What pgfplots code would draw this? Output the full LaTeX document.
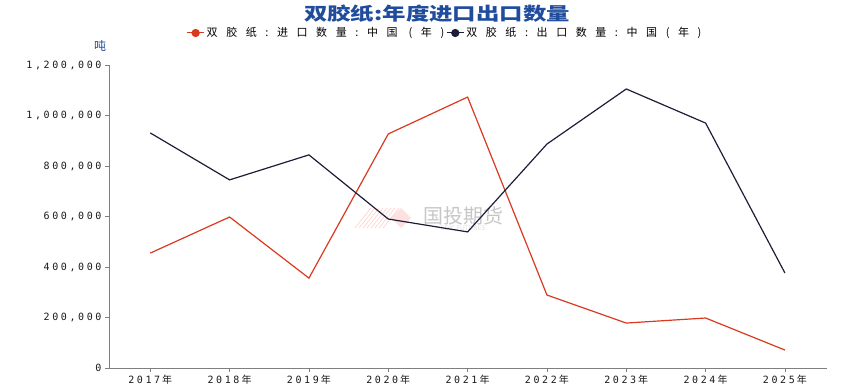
\documentclass[border=0pt]{standalone}
\usepackage{pgfplots}
\pgfplotsset{compat=1.18}
\usepackage{fontspec}
\setmainfont{Noto Sans CJK SC}
\newfontfamily\tickfont[LetterSpace=26]{DejaVu Sans Mono}
\newfontfamily\tickcjk{Noto Sans CJK SC}
\newfontfamily\legfont[LetterSpace=78]{Noto Sans CJK SC}
\definecolor{impred}{HTML}{D9391E}
\definecolor{expnavy}{HTML}{1B1E36}
\definecolor{titleblue}{HTML}{1F4C9C}
\definecolor{axgray}{HTML}{7F7F7F}
\newcommand{\yr}[1]{{\tickfont #1}\hspace{2pt}{\tickcjk 年}}
\begin{document}
\begin{tikzpicture}
\useasboundingbox (-109pt,-20pt) rectangle (733pt,368pt);
% watermark
\begin{scope}[opacity=0.35]
  \foreach \i in {0,...,7} {
    \draw[red!45, line width=0.8pt] (246pt+\i*4pt,140pt) -- (262pt+\i*4pt,160pt);
  }
  \fill[red!35] (282pt,150pt) -- (292pt,160pt) -- (302pt,150pt) -- (292pt,140pt) -- cycle;
\end{scope}
\node[font=\fontsize{20}{21}\selectfont, text=gray!45] at (354pt,152pt) {国投期货};
\node[font=\fontsize{6.5}{7}\selectfont, text=gray!25] at (354pt,140pt) {SDIC FUTURES};
\begin{axis}[
  at={(0,0)}, anchor=south west,
  scale only axis, width=718pt, height=303pt,
  xmin=2016.48, xmax=2025.53, ymin=0, ymax=1200000,
  axis x line*=bottom, axis y line*=left,
  axis line style={axgray, line width=0.8pt, -},
  xtick={2017,...,2025},
  xticklabels={\yr{2017},\yr{2018},\yr{2019},\yr{2020},\yr{2021},\yr{2022},\yr{2023},\yr{2024},\yr{2025}},
  ytick={0,200000,400000,600000,800000,1000000,1200000},
  scaled y ticks=false,
  yticklabel={\tickfont\pgfmathprintnumber[fixed,1000 sep={,},assume math mode=true]{\tick}},
  ticklabel style={font=\fontsize{10}{11}\selectfont, text=black!90},
  tick style={axgray, line width=0.6pt},
  tick align=outside, major tick length=4pt,
  xtick pos=bottom, ytick pos=left,
  legend style={at={(336pt,335pt)}, anchor=center, draw=none, fill=none,
    font=\legfont\fontsize{11}{12}\selectfont, column sep=0pt, inner sep=0pt},
  legend columns=2,
  legend image code/.code={\draw[#1, line width=1pt] (0,0)--(0.6cm,0); \fill[#1] (0.3cm,0) circle (3.5pt);},
  clip=false,
]
\addplot[impred, line width=1.2pt] coordinates {
 (2017,455000) (2018,598000) (2019,356000) (2020,927000) (2021,1073000)
 (2022,289000) (2023,178000) (2024,198000) (2025,71000)};
\addlegendentry{双胶纸:进口数量:中国 (年)}
\addplot[expnavy, line width=1.2pt] coordinates {
 (2017,931000) (2018,745000) (2019,844000) (2020,590000) (2021,539000)
 (2022,887000) (2023,1105000) (2024,970000) (2025,376000)};
\addlegendentry{双胶纸:出口数量:中国(年)}
\end{axis}
\node[font=\bfseries\fontsize{18}{19}\selectfont, text=titleblue, xscale=1.3] at (328pt,354pt) {双胶纸:年度进口出口数量};
\node[font=\fontsize{12}{13}\selectfont, text=titleblue] at (-9pt,322pt) {吨};
\end{tikzpicture}
\end{document}
